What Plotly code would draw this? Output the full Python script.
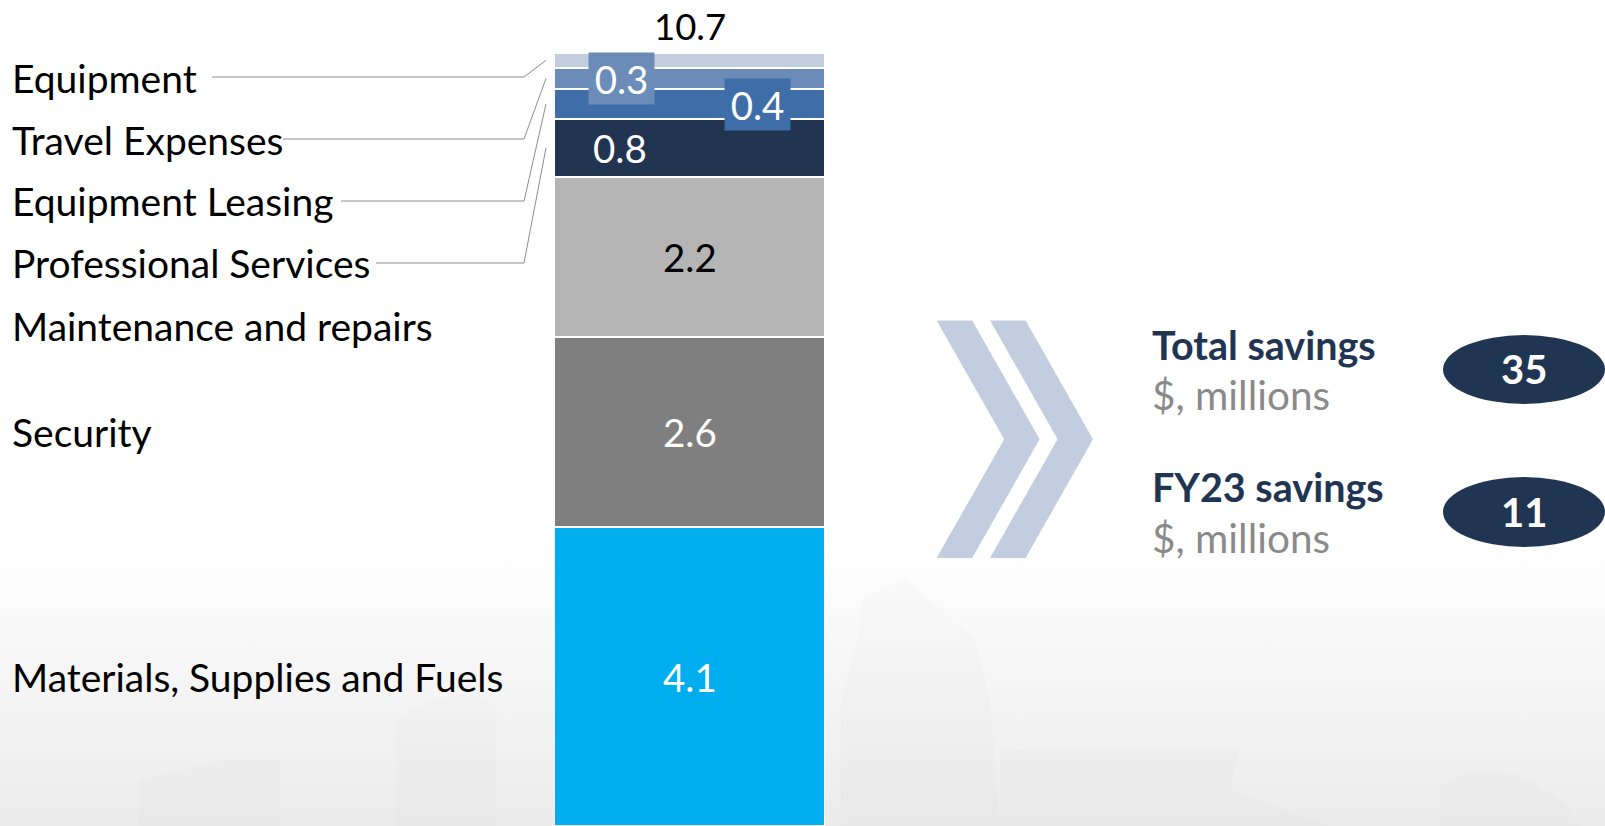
import plotly.graph_objects as go

# ---------------- data ----------------
categories = ["Materials, Supplies and Fuels", "Security", "Maintenance and repairs",
              "Professional Services", "Equipment Leasing", "Travel Expenses", "Equipment"]
values = [4.1, 2.6, 2.2, 0.8, 0.4, 0.3, 0.2]
value_labels = ["4.1", "2.6", "2.2", "0.8", "0.4", "0.3", ""]
total_label = "10.7"

kpi_titles = ["Total savings", "FY23 savings"]
kpi_units = ["$, millions", "$, millions"]
kpi_values = ["35", "11"]

# ---------------- styles / layout ----------------
PAGE_W, PAGE_H = 1605, 826
OFF = 0                      # page body margin is removed via post_script
W, H = PAGE_W - OFF, PAGE_H - OFF
BAR_TOP_PX = 53
BAR_X, BAR_W = 689.5, 271
FONT = "Lato"
NAVY = "#1F3552"

colors = ["#00AEEF", "#7F7F7F", "#B5B5B5", "#213550", "#3F6DA7", "#6B8CB9", "#C3CDE0"]
label_colors = ["white", "white", "black", "white", "white", "white", "white"]
label_x = [689.5, 689.5, 689.5, 620, 757, 621, 689.5]
label_box = [False, False, False, False, True, True, False]

total = sum(values)
R = total * H / (PAGE_H - BAR_TOP_PX)


def px_to_y(py):
    return (PAGE_H - py) / H * R


def px_to_paper(py):
    return 1 - (py - OFF) / H


cum = []
c = 0
for v in values:
    cum.append(c + v / 2)
    c += v

fig = go.Figure()

# background gradient (split around the bar so it does not cover it)
for x0, x1 in [(OFF, 554), (825, PAGE_W)]:
    fig.add_trace(go.Scatter(
        x=[x0, x1, x1, x0, x0],
        y=[px_to_y(PAGE_H), px_to_y(PAGE_H), px_to_y(540), px_to_y(540), px_to_y(PAGE_H)],
        fill="toself", mode="lines", line=dict(width=0, color="rgba(0,0,0,0)"),
        fillgradient=dict(type="vertical", colorscale=[[0, "#EBEBEB"], [1, "#FFFFFF"]]),
        hoverinfo="skip", showlegend=False))

# faint buildings
buildings = [
    [(841, 826), (841, 700), (858, 640), (862, 600), (905, 578), (975, 640), (990, 700), (1000, 826)],
    [(1000, 826), (1000, 750), (1240, 750), (1230, 790), (1330, 826)],
    [(1440, 826), (1440, 785), (1470, 770), (1520, 775), (1560, 800), (1580, 826)],
    [(139, 826), (139, 780), (180, 770), (225, 760), (280, 760), (280, 826)],
    [(396, 826), (396, 720), (430, 700), (470, 693), (496, 705), (496, 826)],
]
for b in buildings:
    xs = [p[0] for p in b] + [b[0][0]]
    ys = [px_to_y(p[1]) for p in b] + [px_to_y(b[0][1])]
    fig.add_trace(go.Scatter(x=xs, y=ys, fill="toself", mode="lines",
                             line=dict(width=0, color="rgba(0,0,0,0)"),
                             fillcolor="rgba(90,90,90,0.02)", hoverinfo="skip", showlegend=False))

# stacked bar
for cat, v, col in zip(categories, values, colors):
    fig.add_trace(go.Bar(x=[BAR_X], y=[v], width=BAR_W, name=cat,
                         marker=dict(color=col, line=dict(color="white", width=2)),
                         showlegend=False, hoverinfo="skip"))

# leader lines
leader_idx = [6, 5, 4, 3]
leader_start_x = [212, 283, 341, 376]
leader_y_px = [77, 139, 201, 263]
for i, sx, ly in zip(leader_idx, leader_start_x, leader_y_px):
    fig.add_trace(go.Scatter(x=[sx, 524, 546], y=[px_to_y(ly), px_to_y(ly), cum[i]],
                             mode="lines", line=dict(color="#8C8C8C", width=1),
                             hoverinfo="skip", showlegend=False))

annotations = []
# left category labels
label_y_px = {6: 78, 5: 140, 4: 201, 3: 263, 2: 326}
for i, cat in enumerate(categories):
    y = px_to_y(label_y_px[i]) if i in label_y_px else cum[i]
    annotations.append(dict(x=10, y=y, xref="x", yref="y", text=cat, showarrow=False,
                            xanchor="left", yanchor="middle",
                            font=dict(family=FONT, size=39, color="black")))

# value labels inside bar
for i, lab in enumerate(value_labels):
    if not lab:
        continue
    a = dict(x=label_x[i], y=cum[i], xref="x", yref="y", text=lab, showarrow=False,
             xanchor="center", yanchor="middle",
             font=dict(family=FONT, size=38.5, color=label_colors[i]))
    if label_box[i]:
        a.update(bgcolor=colors[i], width=65, height=51, borderpad=0)
    annotations.append(a)

# total label
annotations.append(dict(x=BAR_X, y=total, xref="x", yref="y", text=total_label, showarrow=False,
                        xanchor="center", yanchor="bottom", yshift=3,
                        font=dict(family=FONT, size=36.5, color="black")))

shapes = []
# chevrons
chev_color = "#C3CDE0"
for dx in [0, 53.4]:
    pts = [(936.6 + dx, 320.4), (972.2 + dx, 320.4), (1039.6 + dx, 439.2),
           (972.2 + dx, 557.9), (936.6 + dx, 557.9), (1004.2 + dx, 439.2)]
    path = "M " + " L ".join(f"{x},{px_to_paper(y)}" for x, y in pts) + " Z"
    shapes.append(dict(type="path", path=path, xref="x", yref="paper",
                       fillcolor=chev_color, line=dict(width=0)))

# KPI blocks
kpi_title_y = [344, 486]
kpi_unit_y = [394, 537]
kpi_oval_y = [(335, 404), (477, 547)]
for t, u, v, ty, uy, (oy0, oy1) in zip(kpi_titles, kpi_units, kpi_values,
                                       kpi_title_y, kpi_unit_y, kpi_oval_y):
    annotations.append(dict(x=1150, y=px_to_paper(ty), xref="x", yref="paper",
                            text=f"<b>{t}</b>", showarrow=False, xanchor="left", yanchor="middle",
                            font=dict(family=FONT, size=39.5, color=NAVY)))
    annotations.append(dict(x=1150, y=px_to_paper(uy), xref="x", yref="paper",
                            text=u, showarrow=False, xanchor="left", yanchor="middle",
                            font=dict(family=FONT, size=40.5, color="#8A8A8A")))
    shapes.append(dict(type="circle", xref="x", yref="paper", x0=1443, x1=1605,
                       y0=px_to_paper(oy1), y1=px_to_paper(oy0),
                       fillcolor=NAVY, line=dict(width=0)))
    annotations.append(dict(x=1524, y=px_to_paper((oy0 + oy1) / 2), xref="x", yref="paper",
                            text=f"<b>{v}</b>", showarrow=False, xanchor="center", yanchor="middle",
                            font=dict(family=FONT, size=40, color="white")))

fig.update_layout(
    width=W, height=H, barmode="stack", bargap=0,
    margin=dict(l=0, r=0, t=0, b=0),
    paper_bgcolor="white", plot_bgcolor="rgba(0,0,0,0)",
    xaxis=dict(range=[OFF, PAGE_W], visible=False, fixedrange=True),
    yaxis=dict(range=[0, R], visible=False, fixedrange=True),
    annotations=annotations, shapes=shapes, showlegend=False,
)

fig.write_html("out.html", config={"displayModeBar": False},
               post_script="document.body.style.margin='0';document.body.style.overflow='hidden';")
